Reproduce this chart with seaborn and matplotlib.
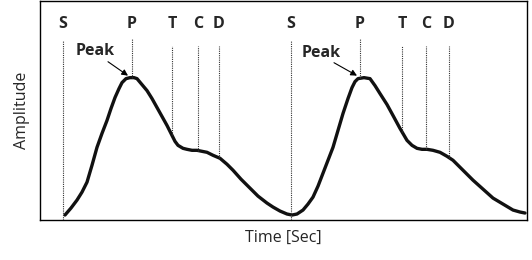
import numpy as np
import pandas as pd
import matplotlib
matplotlib.use("Agg")
import matplotlib.pyplot as plt
import seaborn as sns

# Pulse waveform (arbitrary units)
time = [25, 31, 37, 42, 47, 52, 57, 62, 67, 71, 75, 79, 82, 86, 90, 94, 97, 102, 107, 112,
        117, 122, 127, 132, 135, 138, 143, 147, 152, 157, 162, 167, 173, 180, 187, 193, 201,
        210, 218, 227, 233, 240, 247, 252, 257, 263, 268, 273, 278, 283, 288, 293, 298, 303,
        308, 312, 315, 318, 324, 330, 335, 340, 347, 353, 360, 367, 372, 377, 382, 387, 393,
        400, 407, 413, 423, 433, 443, 453, 463, 473, 480, 485]
amplitude = [5, 12, 20, 28, 38, 55, 73, 87, 100, 112, 123, 132, 138, 142, 143, 143, 142, 136,
             130, 122, 113, 104, 95, 85, 79, 75, 72, 71, 70, 70, 69, 68, 65, 62, 56, 50, 41,
             32, 24, 17, 13, 9, 6, 5, 6, 10, 16, 23, 34, 47, 60, 73, 90, 107, 122, 133, 139,
             142, 143, 142, 135, 127, 116, 105, 92, 80, 75, 72, 71, 71, 70, 68, 64, 60, 50,
             40, 31, 22, 16, 10, 8, 7]

point_labels = ["S", "P", "T", "C", "D", "S", "P", "T", "C", "D"]
point_times = [23, 92, 132, 158, 179, 251, 320, 362, 386, 409]
line_tops = [180, 182, 175, 175, 175, 180, 182, 175, 175, 175]
to_curve = [False, True, True, True, True, False, True, True, True, True]

peak_text = ["Peak", "Peak"]
peak_text_pos = [(55, 170), (281, 168)]
peak_arrow_start = [(68, 159), (294, 158)]
peak_arrow_end = [(88, 145), (317, 145)]

df = pd.DataFrame({"Time": time, "Amplitude": amplitude})

sns.set_style("white")
plt.rcParams["font.family"] = ["Open Sans", "DejaVu Sans"]

fig = plt.figure(figsize=(5.32, 2.60), dpi=100)
ax = fig.add_axes([40 / 532, 40 / 260, 487 / 532, 219 / 260])

sns.lineplot(data=df, x="Time", y="Amplitude", sort=False, color="#111111",
             linewidth=2.4, ax=ax, solid_joinstyle="round", solid_capstyle="round")

for lab, t, top, tc in zip(point_labels, point_times, line_tops, to_curve):
    ymin = float(np.interp(t, time, amplitude)) if tc else 0
    ax.vlines(t, ymin, top, colors="#333333", linestyles=(0, (1, 1)), linewidth=0.8)
    ax.text(t, 197, lab, ha="center", va="center", fontsize=11.5, fontweight="bold")

for txt, pos, a0, a1 in zip(peak_text, peak_text_pos, peak_arrow_start, peak_arrow_end):
    ax.text(pos[0], pos[1], txt, ha="center", va="center", fontsize=11.5, fontweight="bold")
    ax.annotate("", xy=a1, xytext=a0,
                arrowprops=dict(arrowstyle="-|>", color="black", lw=0.8,
                                mutation_scale=9, shrinkA=0, shrinkB=0))

ax.set_xlim(0, 487)
ax.set_ylim(0, 220)
ax.set_xticks([])
ax.set_yticks([])
for s in ax.spines.values():
    s.set_color("black")
    s.set_linewidth(1.0)
ax.set_xlabel("Time [Sec]", fontsize=11.5, labelpad=7)
ax.set_ylabel("Amplitude", fontsize=11.5, labelpad=7)

fig.savefig("out.png", dpi=100)
